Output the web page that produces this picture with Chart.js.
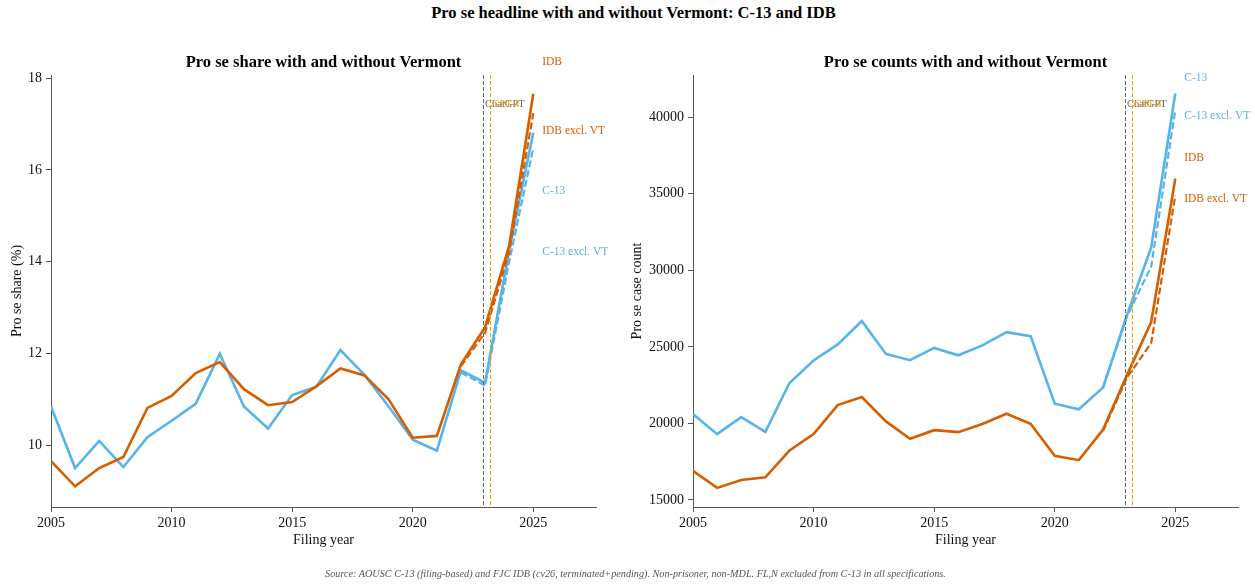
<!DOCTYPE html>
<html>
<head>
<meta charset="utf-8">
<script src="https://cdn.jsdelivr.net/npm/chart.js@4"></script>
<style>
  html, body { margin: 0; padding: 0; background: #fff; }
  #page { position: relative; width: 1255px; height: 584px; overflow: hidden; font-family: "Liberation Serif", "DejaVu Serif", serif; }
  #suptitle { position: absolute; left: 6px; width: 1255px; top: 3px; text-align: center; font-weight: bold; font-size: 16.5px; color: #000; line-height: 20px; white-space: nowrap; }
  #footer { position: absolute; left: 8px; width: 1255px; top: 567px; text-align: center; font-style: italic; font-size: 10.2px; color: #555; line-height: 14px; white-space: nowrap; }
  canvas { position: absolute; top: 0; }
  #shareChart { left: 0; }
  #countChart { left: 620px; }
</style>
</head>
<body>
<div id="page">
  <div id="suptitle">Pro se headline with and without Vermont: C-13 and IDB</div>
  <canvas id="shareChart" width="620" height="584"></canvas>
  <canvas id="countChart" width="635" height="584"></canvas>
  <div id="footer">Source: AOUSC C-13 (filing-based) and FJC IDB (cv26, terminated+pending). Non-prisoner, non-MDL. FL,N excluded from C-13 in all specifications.</div>
</div>
<script>
// Filing years
const years = [2005, 2006, 2007, 2008, 2009, 2010, 2011, 2012, 2013, 2014, 2015,
               2016, 2017, 2018, 2019, 2020, 2021, 2022, 2023, 2024, 2025];
const exclYears = [2022, 2023, 2024, 2025];
const xTickYears = [2005, 2010, 2015, 2020, 2025];

// Pro se share (%)
const idbShare = [9.65, 9.10, 9.50, 9.74, 10.81, 11.07, 11.57, 11.81, 11.22, 10.87, 10.94,
                  11.28, 11.67, 11.52, 11.00, 10.16, 10.20, 11.76, 12.57, 14.35, 17.66];
const c13Share = [10.84, 9.50, 10.09, 9.52, 10.17, 10.53, 10.90, 11.99, 10.84, 10.36, 11.09,
                  11.27, 12.07, 11.53, 10.84, 10.12, 9.88, 11.63, 11.36, 14.25, 16.81];
const idbShareExVT = [11.72, 12.45, 14.20, 17.24];
const c13ShareExVT = [11.58, 11.30, 14.00, 16.48];
const shareTicks = [10, 12, 14, 16, 18];

// Pro se case counts
const idbCount = [16900, 15790, 16310, 16480, 18230, 19300, 21200, 21720, 20130, 19000, 19560,
                  19430, 19960, 20630, 19980, 17880, 17600, 19580, 23170, 26620, 35990];
const c13Count = [20610, 19300, 20410, 19450, 22640, 24110, 25160, 26690, 24540, 24130, 24930,
                  24450, 25100, 25960, 25700, 21290, 20920, 22340, 27100, 31500, 41550];
const idbCountExVT = [19500, 23000, 25250, 34900];
const c13CountExVT = [22300, 27000, 30250, 40460];
const countTicks = [15000, 20000, 25000, 30000, 35000, 40000];

// Release markers
const eventDates = [2022.91, 2023.20];
const eventNames = ['ChatGPT', 'GPT-4'];

const ORANGE = '#D55E00';
const BLUE = '#56B4E9';
const SERIF = '"Liberation Serif", "DejaVu Serif", serif';
const AXIS_GREY = '#555';

function pairs(xs, ys) { return xs.map((x, i) => ({ x: x, y: ys[i] })); }

// Titles, axis titles, release markers and end-of-line series labels
const decorPlugin = {
  id: 'decor',
  afterDatasetsDraw(chart, args, opts) {
    const { ctx, chartArea: a, scales } = chart;
    const xs = scales.x;
    ctx.save();
    const eventColors = ['#666666', '#E69F00'];
    eventDates.forEach((d, i) => {
      const px = Math.round(xs.getPixelForValue(d)) + 0.5;
      ctx.strokeStyle = eventColors[i];
      ctx.lineWidth = 1;
      ctx.setLineDash([4, 2]);
      ctx.beginPath();
      ctx.moveTo(px, a.top);
      ctx.lineTo(px, a.bottom);
      ctx.stroke();
      ctx.setLineDash([]);
      ctx.font = '10.5px ' + SERIF;
      ctx.textAlign = 'left';
      ctx.textBaseline = 'middle';
      ctx.fillStyle = eventColors[i];
      ctx.fillText(eventNames[i], px + 1.5, 104);
    });
    ctx.restore();
  },
  afterDraw(chart, args, opts) {
    const { ctx, chartArea: a, scales } = chart;
    const xs = scales.x, ys = scales.y;
    ctx.save();
    ctx.fillStyle = '#000';
    ctx.textAlign = 'center';
    ctx.textBaseline = 'middle';
    ctx.font = 'bold 16.5px ' + SERIF;
    ctx.fillText(opts.title, (a.left + a.right) / 2, 62.5);
    ctx.font = '14px ' + SERIF;
    ctx.fillStyle = '#111';
    ctx.fillText('Filing year', (a.left + a.right) / 2, 540);
    ctx.save();
    ctx.translate(17, (a.top + a.bottom) / 2);
    ctx.rotate(-Math.PI / 2);
    ctx.fillText(opts.yTitle, 0, 0);
    ctx.restore();

    ctx.font = '11.5px ' + SERIF;
    ctx.textAlign = 'left';
    opts.labels.forEach(l => {
      ctx.fillStyle = l.color;
      ctx.fillText(l.text, xs.getPixelForValue(opts.labelX), ys.getPixelForValue(l.y));
    });
    ctx.restore();
  }
};

function makeChart(canvasId, cfg) {
  const datasets = [
    { label: 'IDB excl. VT', data: pairs(exclYears, cfg.idbEx), borderColor: ORANGE, borderWidth: 2.2, borderDash: [7, 3], order: 0 },
    { label: 'IDB', data: pairs(years, cfg.idb), borderColor: ORANGE, borderWidth: 2.6, order: 1 },
    { label: 'C-13 excl. VT', data: pairs(exclYears, cfg.c13Ex), borderColor: BLUE, borderWidth: 2.2, borderDash: [7, 3], order: 2 },
    { label: 'C-13', data: pairs(years, cfg.c13), borderColor: BLUE, borderWidth: 2.6, order: 3 }
  ];
  datasets.forEach(d => { d.pointRadius = 0; d.fill = false; d.tension = 0; d.backgroundColor = d.borderColor; });

  const tickFont = { family: SERIF, size: 14 };
  return new Chart(document.getElementById(canvasId), {
    type: 'line',
    data: { datasets: datasets },
    plugins: [decorPlugin],
    options: {
      responsive: false,
      animation: false,
      devicePixelRatio: 1,
      layout: { padding: { top: 75, right: cfg.padRight, bottom: 0, left: 0 } },
      plugins: {
        legend: { display: false },
        tooltip: { enabled: false },
        decor: { title: cfg.title, yTitle: cfg.yTitle, labels: cfg.labels, labelX: 2025.37 }
      },
      scales: {
        x: {
          type: 'linear',
          min: 2005,
          max: 2027.6,
          afterFit(s) { s.height = 77; },
          afterBuildTicks(s) { s.ticks = xTickYears.map(v => ({ value: v })); },
          ticks: { font: tickFont, color: '#111', padding: 3, maxRotation: 0, callback: v => String(v) },
          grid: { drawOnChartArea: false, drawTicks: true, tickLength: 5, color: AXIS_GREY },
          border: { display: true, color: AXIS_GREY, width: 1 }
        },
        y: {
          type: 'linear',
          min: cfg.yMin,
          max: cfg.yMax,
          afterFit(s) { s.width = cfg.yWidth; },
          afterBuildTicks(s) { s.ticks = cfg.yTicks.map(v => ({ value: v })); },
          ticks: { font: tickFont, color: '#111', padding: 4, callback: v => String(v) },
          grid: { drawOnChartArea: false, drawTicks: true, tickLength: 5, color: AXIS_GREY },
          border: { display: true, color: AXIS_GREY, width: 1 }
        }
      }
    }
  });
}

makeChart('shareChart', {
  title: 'Pro se share with and without Vermont',
  yTitle: 'Pro se share (%)',
  idb: idbShare, c13: c13Share, idbEx: idbShareExVT, c13Ex: c13ShareExVT,
  yMin: 8.65, yMax: 18.07, yTicks: shareTicks, yWidth: 51, padRight: 24,
  labels: [
    { text: 'IDB', y: 18.35, color: ORANGE },
    { text: 'IDB excl. VT', y: 16.84, color: ORANGE },
    { text: 'C-13', y: 15.53, color: BLUE },
    { text: 'C-13 excl. VT', y: 14.22, color: BLUE }
  ]
});

makeChart('countChart', {
  title: 'Pro se counts with and without Vermont',
  yTitle: 'Pro se case count',
  idb: idbCount, c13: c13Count, idbEx: idbCountExVT, c13Ex: c13CountExVT,
  yMin: 14540, yMax: 42760, yTicks: countTicks, yWidth: 73, padRight: 17,
  labels: [
    { text: 'C-13', y: 42550, color: BLUE },
    { text: 'C-13 excl. VT', y: 40070, color: BLUE },
    { text: 'IDB', y: 37320, color: ORANGE },
    { text: 'IDB excl. VT', y: 34630, color: ORANGE }
  ]
});
</script>
</body>
</html>
